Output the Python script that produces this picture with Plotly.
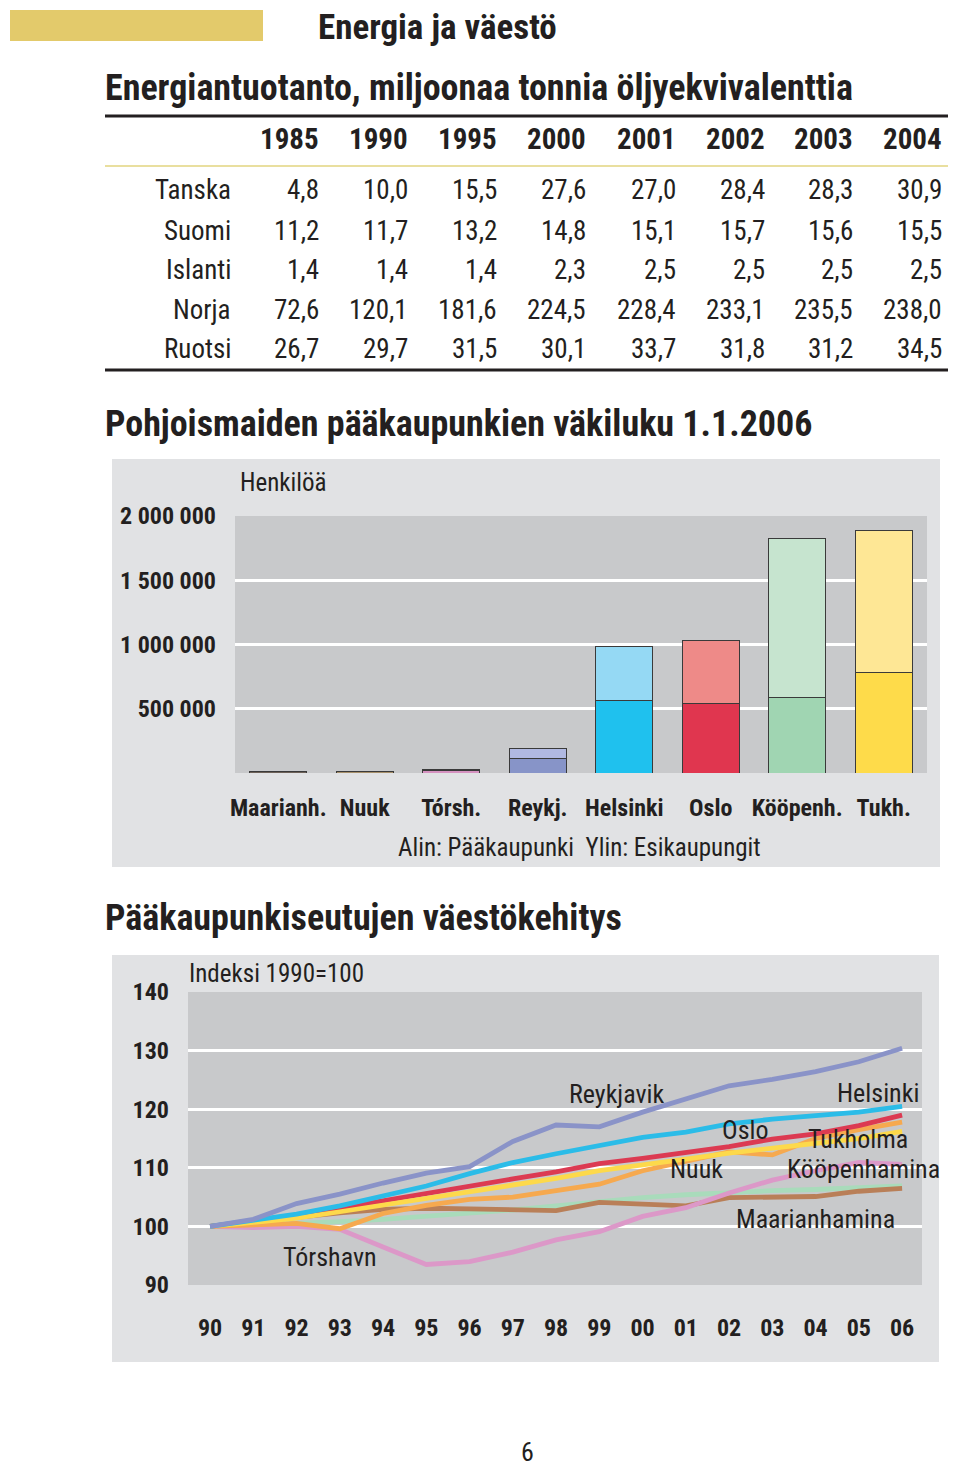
import plotly.graph_objects as go

W, H = 960, 1467
FONT = "Roboto Condensed, Open Sans Condensed, Liberation Sans Narrow, sans-serif"
TXT = "#231f20"

def X(px):
    return px / W

def Y(py):
    return 1 - py / H

# ---------------- data ----------------
table_years = ["1985", "1990", "1995", "2000", "2001", "2002", "2003", "2004"]
table_countries = ["Tanska", "Suomi", "Islanti", "Norja", "Ruotsi"]
tanska = ["4,8", "10,0", "15,5", "27,6", "27,0", "28,4", "28,3", "30,9"]
suomi = ["11,2", "11,7", "13,2", "14,8", "15,1", "15,7", "15,6", "15,5"]
islanti = ["1,4", "1,4", "1,4", "2,3", "2,5", "2,5", "2,5", "2,5"]
norja = ["72,6", "120,1", "181,6", "224,5", "228,4", "233,1", "235,5", "238,0"]
ruotsi = ["26,7", "29,7", "31,5", "30,1", "33,7", "31,8", "31,2", "34,5"]
table_rows = [tanska, suomi, islanti, norja, ruotsi]

bar_cities = ["Maarianh.", "Nuuk", "Tórsh.", "Reykj.", "Helsinki", "Oslo", "Kööpenh.", "Tukh."]
capital_pop = [10700, 14500, 19000, 116000, 564000, 538000, 590000, 782000]
suburb_pop = [0, 0, 5000, 74000, 424000, 492000, 1235000, 1105000]
capital_colors = ["#6d6158", "#a68f6a", "#d592c0", "#8794c8", "#1fc1ee", "#e0364f", "#a0d5b2", "#fedb4a"]
suburb_colors = ["#6d6158", "#a68f6a", "#e9b3d6", "#b1b9e2", "#95d9f4", "#ee8a88", "#c6e4cf", "#fee795"]
bar_ticks = [0, 500000, 1000000, 1500000, 2000000]
bar_ticktext = ["", "500 000", "1 000 000", "1 500 000", "2 000 000"]

line_years = ["90", "91", "92", "93", "94", "95", "96", "97", "98", "99", "00", "01", "02", "03", "04", "05", "06"]
reykjavik = [100, 101.2, 103.9, 105.5, 107.4, 109.1, 110.2, 114.5, 117.3, 117.0, 119.5, 121.8, 124.0, 125.1, 126.4, 128.1, 130.4]
helsinki = [100, 101.0, 102.1, 103.5, 105.1, 106.9, 109.0, 110.9, 112.4, 113.8, 115.2, 116.1, 117.5, 118.3, 118.9, 119.5, 120.5]
oslo = [100, 100.9, 101.8, 103.1, 104.4, 105.7, 107.0, 108.1, 109.3, 110.7, 111.6, 112.6, 113.6, 114.9, 115.8, 117.2, 119.0]
tukholma = [100, 100.7, 101.4, 102.5, 103.6, 104.8, 105.9, 107.0, 108.2, 109.5, 110.6, 111.5, 112.5, 113.4, 114.2, 115.0, 116.2]
nuuk = [100, 100.3, 100.5, 99.6, 102.2, 103.6, 104.6, 105.0, 106.0, 107.2, 109.5, 111.0, 112.7, 112.2, 115.0, 116.5, 117.8]
kobenhavn = [100, 100.2, 100.4, 100.8, 101.2, 101.7, 102.3, 102.8, 103.5, 104.3, 104.9, 105.4, 105.8, 106.1, 106.3, 106.6, 106.9]
torshavn = [100, 99.8, 100.0, 99.5, 96.5, 93.5, 94.0, 95.6, 97.7, 99.1, 101.7, 103.2, 105.7, 107.9, 109.5, 110.9, 110.6]
maarianhamina = [100, 100.8, 101.5, 102.3, 102.9, 103.1, 103.0, 102.8, 102.7, 104.1, 103.8, 103.5, 104.9, 105.1, 105.1, 106.0, 106.5]

line_series = [
    ("Kööpenhamina", kobenhavn, "#a9dbbb"),
    ("Maarianhamina", maarianhamina, "#b97f58"),
    ("Tórshavn", torshavn, "#dc98c8"),
    ("Nuuk", nuuk, "#f6a94f"),
    ("Oslo", oslo, "#dc3a52"),
    ("Tukholma", tukholma, "#fdd94b"),
    ("Helsinki", helsinki, "#2bbce8"),
    ("Reykjavik", reykjavik, "#8a93c8"),
]
line_ticks = [90, 100, 110, 120, 130, 140]

# ---------------- figure ----------------
fig = go.Figure()

fig.add_trace(go.Bar(x=bar_cities, y=capital_pop, marker=dict(color=capital_colors, line=dict(color="#3a3a3a", width=1)),
                     width=0.66, xaxis="x", yaxis="y", showlegend=False, hoverinfo="skip"))
fig.add_trace(go.Bar(x=bar_cities, y=suburb_pop, marker=dict(color=suburb_colors, line=dict(color="#3a3a3a", width=1)),
                     width=0.66, xaxis="x", yaxis="y", showlegend=False, hoverinfo="skip"))

xs = list(range(len(line_years)))
for name, vals, col in line_series:
    fig.add_trace(go.Scatter(x=xs, y=vals, mode="lines", line=dict(color=col, width=4.8),
                             xaxis="x2", yaxis="y2", showlegend=False, name=name, hoverinfo="skip"))

shapes = []
shapes.append(dict(type="rect", xref="paper", yref="paper", x0=X(10), x1=X(263), y0=Y(41), y1=Y(10),
                   fillcolor="#e3ca6b", line=dict(width=0), layer="below"))
shapes.append(dict(type="line", xref="paper", yref="paper", x0=X(105), x1=X(948), y0=Y(116), y1=Y(116),
                   line=dict(color="#231f20", width=3)))
shapes.append(dict(type="line", xref="paper", yref="paper", x0=X(105), x1=X(948), y0=Y(166), y1=Y(166),
                   line=dict(color="#e9df9f", width=2)))
shapes.append(dict(type="line", xref="paper", yref="paper", x0=X(105), x1=X(948), y0=Y(370), y1=Y(370),
                   line=dict(color="#231f20", width=3)))
shapes.append(dict(type="rect", xref="paper", yref="paper", x0=X(112), x1=X(940), y0=Y(867), y1=Y(459),
                   fillcolor="#e1e2e4", line=dict(width=0), layer="below"))
shapes.append(dict(type="rect", xref="paper", yref="paper", x0=X(235), x1=X(927), y0=Y(773), y1=Y(516),
                   fillcolor="#c8c9cb", line=dict(width=0), layer="below"))
shapes.append(dict(type="rect", xref="paper", yref="paper", x0=X(112), x1=X(939), y0=Y(1362), y1=Y(955),
                   fillcolor="#e1e2e4", line=dict(width=0), layer="below"))
shapes.append(dict(type="rect", xref="paper", yref="paper", x0=X(188), x1=X(922), y0=Y(1285), y1=Y(992),
                   fillcolor="#c8c9cb", line=dict(width=0), layer="below"))

ann = []

def text(px, py, s, size, bold=False, anchor="left", color=TXT):
    ann.append(dict(xref="paper", yref="paper", x=X(px), y=Y(py), text=s, showarrow=False,
                    xanchor=anchor, yanchor="middle",
                    font=dict(family=FONT, size=size, color=color, weight="bold" if bold else "normal")))

text(316, 27, "Energia ja väestö", 35, bold=True)
text(103, 88, "Energiantuotanto, miljoonaa tonnia öljyekvivalenttia", 36, bold=True)

col_right = [321, 410, 499, 588, 678, 767, 855, 944]
for yr, cx in zip(table_years, col_right):
    text(cx, 139, yr, 29, bold=True, anchor="right")
row_y = [190, 231, 270, 310, 349]
for name, vals, ry in zip(table_countries, table_rows, row_y):
    text(233, ry, name, 27, anchor="right")
    for v, cx in zip(vals, col_right):
        text(cx, ry, v, 27, anchor="right")

text(103, 424, "Pohjoismaiden pääkaupunkien väkiluku 1.1.2006", 36, bold=True)
text(238, 482, "Henkilöä", 25)
text(579, 847, "Alin: Pääkaupunki  Ylin: Esikaupungit", 25, anchor="center")

text(103, 918, "Pääkaupunkiseutujen väestökehitys", 36, bold=True)
text(187, 973, "Indeksi 1990=100", 25)

line_labels = [("Reykjavik", 617, 1094), ("Helsinki", 878, 1093), ("Oslo", 745, 1130),
               ("Tukholma", 858, 1139), ("Nuuk", 696, 1169), ("Kööpenhamina", 863, 1169),
               ("Maarianhamina", 815, 1219), ("Tórshavn", 330, 1257)]
for s, lx, ly in line_labels:
    text(lx, ly, s, 26, anchor="center")

text(527, 1452, "6", 26, anchor="center")

tickfont_bold = dict(family=FONT, size=24, color=TXT, weight="bold")

fig.update_layout(
    width=W, height=H, autosize=False,
    margin=dict(l=0, r=0, t=0, b=0, pad=0, autoexpand=False),
    paper_bgcolor="white", plot_bgcolor="rgba(0,0,0,0)",
    barmode="stack", showlegend=False,
    shapes=shapes, annotations=ann,
    xaxis=dict(domain=[X(235), X(927)], anchor="y", range=[-0.5, 7.5], showgrid=False, zeroline=False,
               showline=False, ticks="", tickangle=0, tickfont=tickfont_bold, ticklabelstandoff=18,
               automargin=False, fixedrange=True),
    yaxis=dict(domain=[Y(773), Y(516)], anchor="x", range=[0, 2000000], tickvals=bar_ticks, ticktext=bar_ticktext,
               showgrid=True, gridcolor="white", gridwidth=2.5, zeroline=False, showline=False, ticks="",
               tickfont=tickfont_bold, ticklabelstandoff=18, automargin=False, fixedrange=True),
    xaxis2=dict(domain=[X(188), X(922)], anchor="y2", range=[-0.51, 16.46], tickvals=xs, ticktext=line_years,
                showgrid=False, zeroline=False, showline=False, ticks="", tickangle=0, tickfont=tickfont_bold,
                ticklabelstandoff=26, automargin=False, fixedrange=True),
    yaxis2=dict(domain=[Y(1285), Y(992)], anchor="x2", range=[90, 140], tickvals=line_ticks,
                showgrid=True, gridcolor="white", gridwidth=2.5, zeroline=False, showline=False, ticks="",
                tickfont=tickfont_bold, ticklabelstandoff=18, automargin=False, fixedrange=True),
)

post = ("var d=document.getElementById('{plot_id}');"
        "d.style.position='fixed';d.style.top='0px';d.style.left='0px';"
        "document.body.style.margin='0';"
        "document.documentElement.style.overflow='hidden';document.body.style.overflow='hidden';"
        "window.scrollTo(0,0);")

fig.write_html("out.html", config={"displayModeBar": False}, post_script=post)
